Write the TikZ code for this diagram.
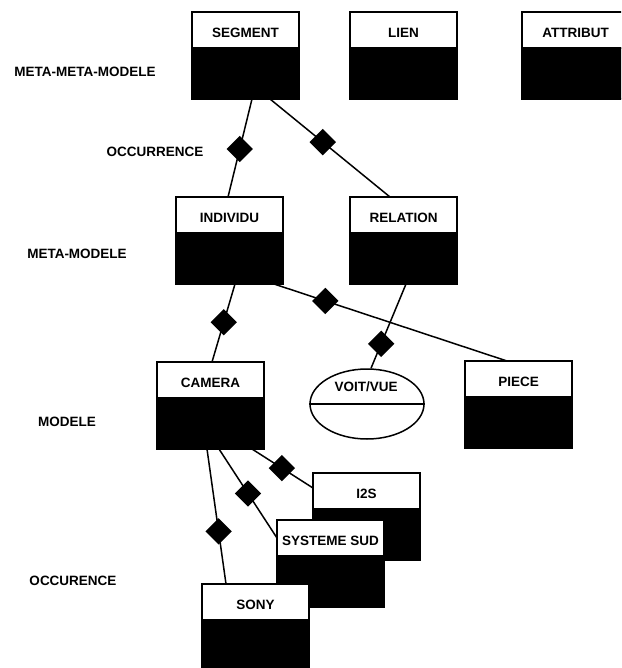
\documentclass[tikz,border=0pt]{standalone}
\usepackage{fontspec}
\setmainfont{Liberation Sans}
\usetikzlibrary{shapes.geometric,calc}
\newcommand\lbl{\fontsize{13.5}{15}\selectfont\bfseries}
\tikzset{
  hd/.style={draw=black, fill=white, line width=1.5pt, minimum width=107pt, minimum height=36pt, inner sep=0pt, outer sep=0pt, anchor=north west, font=\lbl, text height=15pt, text depth=0pt},
  bd/.style={draw=black, fill=black, line width=1.5pt, minimum width=107pt, minimum height=51pt, inner sep=0pt, outer sep=0pt, anchor=north},
  dia/.style={diamond, fill=black, minimum width=27pt, minimum height=27pt, inner sep=0pt},
  conn/.style={line width=1.5pt},
  lvl/.style={font=\lbl, inner sep=0pt},
}
\newcommand\umlbox[4]{\node[hd] (#1) at (#2,#3) {#4}; \node[bd] (#1b) at (#1.south) {};}
\begin{document}
\begin{tikzpicture}[x=1pt,y=-1pt]
\useasboundingbox (0,0) rectangle (621,668);
\clip (0,0) rectangle (621,668);
% level labels
\node[lvl] (l1) at (85,72) {META-META-MODELE};
\node[lvl] (l2) at (155,152) {OCCURRENCE};
\node[lvl] (l3) at (77,254) {META-MODELE};
\node[lvl] (l4) at (67,422) {MODELE};
\node[lvl] (l5) at (73,581) {OCCURENCE};
% boxes
\umlbox{seg}{192}{12}{SEGMENT}
\umlbox{lien}{350}{12}{LIEN}
\umlbox{attr}{522}{12}{ATTRIBUT}
\umlbox{ind}{176}{197}{INDIVIDU}
\umlbox{rel}{350}{197}{RELATION}
\umlbox{cam}{157}{362}{CAMERA}
\umlbox{pie}{465}{361}{PIECE}
% ellipse
\node[draw, ellipse, line width=1.5pt, minimum width=114pt, minimum height=70pt, inner sep=0pt] (ell) at (367,404) {};
\draw[line width=1.5pt] (ell.west) -- (ell.east);
\node[lvl] (voit) at (366,387) {VOIT/VUE};
% connectors (upper part)
\draw[conn] ($(segb.south west)+(60,0)$) -- node[dia, pos=0.51] {} ($(ind.north west)+(52,0)$);
\draw[conn] ($(segb.south west)+(78,0)$) -- node[dia, pos=0.44] {} ($(rel.north west)+(40,0)$);
\draw[conn] ($(indb.south west)+(59,0)$) -- node[dia, pos=0.49] {} ($(cam.north west)+(55,0)$);
\draw[conn] ($(indb.south west)+(98,0)$) -- node[dia, pos=0.22] {} ($(pie.north west)+(42,0)$);
\draw[conn] ($(relb.south west)+(56,0)$) -- node[dia, pos=0.71] {} ($(ell.north)+(4,0)$);
% lower boxes (overlapping)
\umlbox{iis}{313}{473}{I2S}
\umlbox{sys}{277}{520}{SYSTEME SUD}
\umlbox{sony}{202}{584}{SONY}
% connectors (lower part)
\draw[conn] ($(camb.south west)+(95,0)$) -- node[dia, pos=0.49] {} ($(iis.north west)+(0,15)$);
\draw[conn] ($(camb.south west)+(62,0)$) -- node[dia, pos=0.5] {} ($(sys.north west)+(0,18)$);
\draw[conn] ($(camb.south west)+(50,0)$) -- node[dia, pos=0.61] {} ($(sony.north west)+(24,0)$);
\end{tikzpicture}
\end{document}
